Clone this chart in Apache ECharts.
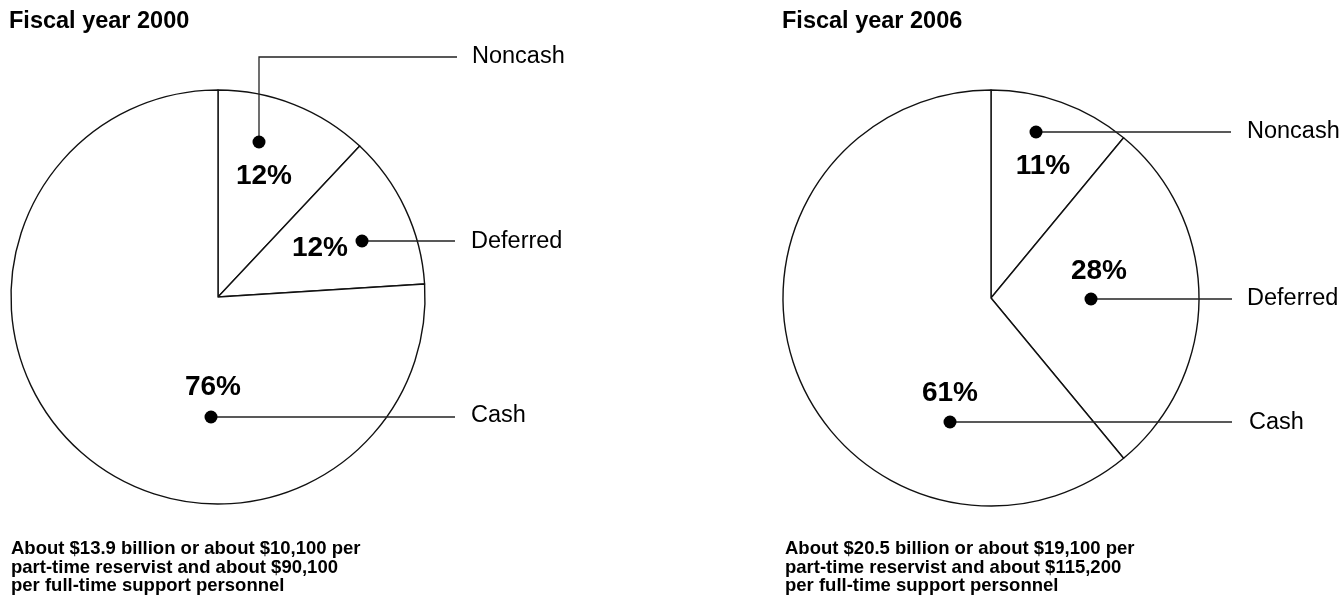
<!DOCTYPE html>
<html>
<head>
<meta charset="utf-8">
<script src="https://cdn.jsdelivr.net/npm/echarts@6/dist/echarts.min.js"></script>
<style>
html,body{margin:0;padding:0;background:#fff;}
#chart{width:1343px;height:599px;}
</style>
</head>
<body>
<div id="chart"></div>
<script>
// ---- data ----
var categories = ['Noncash', 'Deferred', 'Cash'];
var titles = ['Fiscal year 2000', 'Fiscal year 2006'];
var shares2000 = [12, 12, 76];
var shares2006 = [11, 28, 61];
var notes2000 = ['About $13.9 billion or about $10,100 per', 'part-time reservist and about $90,100', 'per full-time support personnel'];
var notes2006 = ['About $20.5 billion or about $19,100 per', 'part-time reservist and about $115,200', 'per full-time support personnel'];

// ---- layout (positions only) ----
var FONT = '"Liberation Sans", Arial, Helvetica, sans-serif';
var panels = [
  {
    title: titles[0], values: shares2000, notes: notes2000,
    center: [218, 297], radius: 207, titleX: 9, noteX: 11,
    ann: [
      {dot: [259, 142], line: [[259, 142], [259, 57], [457, 57]], labelX: 472, labelY: 57, pct: [264, 176]},
      {dot: [362, 241], line: [[362, 241], [455, 241]], labelX: 471, labelY: 242, pct: [320, 248]},
      {dot: [211, 417], line: [[211, 417], [455, 417]], labelX: 471, labelY: 416, pct: [213, 387]}
    ]
  },
  {
    title: titles[1], values: shares2006, notes: notes2006,
    center: [991, 298], radius: 208, titleX: 782, noteX: 785,
    ann: [
      {dot: [1036, 132], line: [[1036, 132], [1231, 132]], labelX: 1247, labelY: 132, pct: [1043, 166]},
      {dot: [1091, 299], line: [[1091, 299], [1232, 299]], labelX: 1247, labelY: 299, pct: [1099, 271]},
      {dot: [950, 422], line: [[950, 422], [1232, 422]], labelX: 1249, labelY: 423, pct: [950, 393]}
    ]
  }
];

var chart = echarts.init(document.getElementById('chart'), null, {renderer: 'canvas'});

var series = [];
var graphics = [];
panels.forEach(function (p) {
  series.push({
    type: 'pie',
    center: p.center,
    radius: p.radius,
    startAngle: 90,
    clockwise: true,
    silent: true,
    animation: false,
    label: {show: false},
    labelLine: {show: false},
    itemStyle: {color: '#ffffff', borderColor: '#111111', borderWidth: 1.4},
    emphasis: {disabled: true},
    data: categories.map(function (c, i) { return {name: c, value: p.values[i]}; })
  });
  graphics.push({
    type: 'text', x: p.titleX, y: 22,
    style: {text: p.title, font: 'bold 23.5px ' + FONT, fill: '#000', textVerticalAlign: 'middle'}
  });
  p.notes.forEach(function (line, k) {
    graphics.push({
      type: 'text', x: p.noteX, y: 549 + k * 18.5,
      style: {text: line, font: 'bold 18.5px ' + FONT, fill: '#000', textVerticalAlign: 'middle'}
    });
  });
  p.ann.forEach(function (a, i) {
    graphics.push({
      type: 'polyline', z: 10,
      shape: {points: a.line},
      style: {stroke: '#222', lineWidth: 1.3, fill: null}
    });
    graphics.push({
      type: 'circle', z: 11,
      shape: {cx: a.dot[0], cy: a.dot[1], r: 6.5},
      style: {fill: '#000'}
    });
    graphics.push({
      type: 'text', x: a.labelX, y: a.labelY, z: 11,
      style: {text: categories[i], font: '23.5px ' + FONT, fill: '#000', textVerticalAlign: 'middle'}
    });
    graphics.push({
      type: 'text', x: a.pct[0], y: a.pct[1], z: 11,
      style: {text: p.values[i] + '%', font: 'bold 28px ' + FONT, fill: '#000', textAlign: 'center', textVerticalAlign: 'middle'}
    });
  });
});

chart.setOption({
  backgroundColor: '#ffffff',
  animation: false,
  series: series,
  graphic: graphics
});
</script>
</body>
</html>
